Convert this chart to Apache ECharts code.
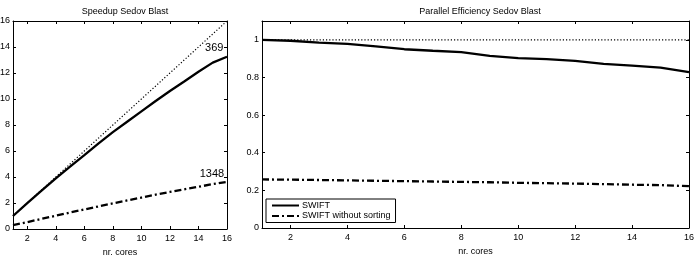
<!DOCTYPE html>
<html>
<head>
<meta charset="utf-8">
<script src="https://cdn.jsdelivr.net/npm/echarts@6/dist/echarts.min.js"></script>
<style>
html,body{margin:0;padding:0;background:#fff;}
#c{width:698px;height:255px;}
</style>
</head>
<body>
<div id="c"></div>
<script>
var cores = [1,2,3,4,5,6,7,8,9,10,11,12,13,14,15,16];
var speedupSwift = [1.0,1.99,2.95,3.9,4.8,5.68,6.58,7.45,8.25,9.05,9.85,10.62,11.35,12.1,12.8,13.25];
var speedupNoSort = [0.3,0.53,0.78,1.02,1.27,1.5,1.74,1.97,2.2,2.42,2.64,2.85,3.05,3.25,3.45,3.62];
var speedupIdeal = [1,2,3,4,5,6,7,8,9,10,11,12,13,14,15,16];
var effSwift = [1.0,0.995,0.985,0.978,0.965,0.95,0.942,0.935,0.915,0.903,0.897,0.888,0.872,0.863,0.852,0.828];
var effNoSort = [0.258,0.257,0.255,0.253,0.251,0.249,0.247,0.245,0.243,0.24,0.238,0.236,0.233,0.23,0.228,0.222];
var effIdeal = [1,1,1,1,1,1,1,1,1,1,1,1,1,1,1,1];
var xTicks = [2,4,6,8,10,12,14,16];
var speedupTicks = [0,2,4,6,8,10,12,14,16];
var effTicks = [0,0.2,0.4,0.6,0.8,1];
var annotations = [{text:'369', x:15.75, y:13.96}, {text:'1348', x:15.8, y:4.23}];
var titles = ['Speedup Sedov Blast','Parallel Efficiency Sedov Blast'];
var xName = 'nr. cores';
var names = ['SWIFT','SWIFT without sorting'];

var FONT = 'Liberation Sans, Arial, Helvetica, sans-serif';
function pairs(xs, ys){ return xs.map(function(x,i){return [x, ys[i]];}); }

function xAx(grid, pos, ticks, showLabels){
  return {
    type:'value', gridIndex:grid, position:pos, min:1, max:16,
    name: showLabels ? xName : '', nameLocation:'middle', nameGap:10,
    nameTextStyle:{fontFamily:FONT,fontSize:9,color:'#000'},
    axisLine:{show:true,onZero:false,lineStyle:{color:'#000',width:1}},
    axisTick:{show:true,inside:true,length:3,customValues:ticks,lineStyle:{color:'#000'}},
    axisLabel:{show:showLabels,customValues:ticks,margin:5,fontFamily:FONT,fontSize:9,color:'#000'},
    splitLine:{show:false}
  };
}
function yAx(grid, pos, min, max, ticks, showLabels, fmt){
  return {
    type:'value', gridIndex:grid, position:pos, min:min, max:max,
    axisLine:{show:true,onZero:false,lineStyle:{color:'#000',width:1}},
    axisTick:{show:true,inside:true,length:3,customValues:ticks,lineStyle:{color:'#000'}},
    axisLabel:{show:showLabels,customValues:ticks,margin:3,fontFamily:FONT,fontSize:9,color:'#000',formatter:fmt},
    splitLine:{show:false}
  };
}
var dashDot = [7,3,2,3];

var chart = echarts.init(document.getElementById('c'), null, {renderer:'canvas'});
chart.setOption({
  animation:false,
  backgroundColor:'#fff',
  title:[
    {text:titles[0], left:120, top:2, textAlign:'center', textStyle:{fontFamily:FONT,fontSize:9,fontWeight:'normal',color:'#000'}},
    {text:titles[1], left:475, top:2, textAlign:'center', textStyle:{fontFamily:FONT,fontSize:9,fontWeight:'normal',color:'#000'}}
  ],
  legend:{
    data:names, orient:'vertical', left:266, top:199,
    backgroundColor:'#fff', borderColor:'#000', borderWidth:1,
    padding:[2,5,2,5], itemWidth:27, itemHeight:10, itemGap:1.5,
    itemStyle:{opacity:0, borderWidth:0},
    textStyle:{fontFamily:FONT,fontSize:9,color:'#000',padding:[0,0,0,-2]},
    selectedMode:false
  },
  grid:[
    {left:13, right:471, top:21, bottom:26, containLabel:false, outerBoundsMode:'none'},
    {left:262, right:9, top:21, bottom:27, containLabel:false, outerBoundsMode:'none'}
  ],
  xAxis:[
    xAx(0,'bottom',xTicks,true),
    xAx(0,'top',xTicks,false),
    xAx(1,'bottom',xTicks,true),
    xAx(1,'top',xTicks,false)
  ],
  yAxis:[
    yAx(0,'left',0,16,speedupTicks,true),
    yAx(0,'right',0,16,speedupTicks,false),
    yAx(1,'left',0,1.1,effTicks,true,function(v){return v===0?'0':(v===1?'1':String(v));}),
    yAx(1,'right',0,1.1,effTicks,false)
  ],
  series:[
    {type:'line', name:'ideal', xAxisIndex:0, yAxisIndex:0, data:pairs(cores,speedupIdeal), symbol:'none',
      lineStyle:{color:'#000',width:1.2,type:[1.2,2]}},
    {type:'line', name:names[0], xAxisIndex:0, yAxisIndex:0, data:pairs(cores,speedupSwift), symbol:'none',
      lineStyle:{color:'#000',width:2.3,type:'solid'}, itemStyle:{color:'#000'},
      markPoint:{symbol:'circle',symbolSize:0,
        label:{show:true,position:'left',distance:0,fontFamily:FONT,fontSize:11,color:'#000',formatter:'{b}'},
        data:[{name:annotations[0].text, coord:[annotations[0].x, annotations[0].y]}]}},
    {type:'line', name:names[1], xAxisIndex:0, yAxisIndex:0, data:pairs(cores,speedupNoSort), symbol:'none',
      lineStyle:{color:'#000',width:2.3,type:dashDot}, itemStyle:{color:'#000'},
      markPoint:{symbol:'circle',symbolSize:0,
        label:{show:true,position:'left',distance:0,fontFamily:FONT,fontSize:11,color:'#000',formatter:'{b}'},
        data:[{name:annotations[1].text, coord:[annotations[1].x, annotations[1].y]}]}},
    {type:'line', name:'ideal2', xAxisIndex:2, yAxisIndex:2, data:pairs(cores,effIdeal), symbol:'none',
      lineStyle:{color:'#000',width:1.2,type:[1.2,2]}},
    {type:'line', name:names[0], xAxisIndex:2, yAxisIndex:2, data:pairs(cores,effSwift), symbol:'none',
      lineStyle:{color:'#000',width:2.3,type:'solid'}, itemStyle:{color:'#000'}},
    {type:'line', name:names[1], xAxisIndex:2, yAxisIndex:2, data:pairs(cores,effNoSort), symbol:'none',
      lineStyle:{color:'#000',width:2.3,type:dashDot}, itemStyle:{color:'#000'}}
  ]
});
</script>
</body>
</html>
